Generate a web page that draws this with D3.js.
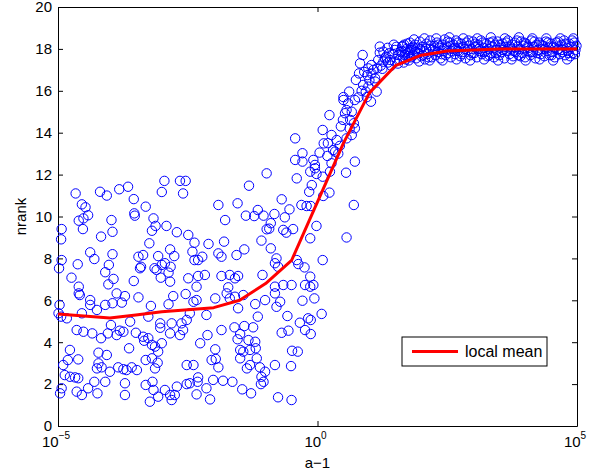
<!DOCTYPE html>
<html>
<head>
<meta charset="utf-8">
<script src="https://cdn.jsdelivr.net/npm/d3@7"></script>
<style>
  body { margin: 0; background: #fff; }
  text { font-family: "Liberation Sans", Arial, Helvetica, sans-serif; }
</style>
</head>
<body>
<div id="chart"></div>
<script>
// scatter points: [log10(a-1), nrank]
let flatLeft = [
  [-4.66,11.1],[-4.19,11.18],[-4.06,11.0],[-3.82,11.3],[-3.65,11.42],[-3.54,10.83],[-2.95,11.7],[-3.0,11.17],
  [-2.65,11.7],[-2.54,11.7],[-2.59,11.1],[-4.54,10.58],[-4.47,10.44],[-4.42,10.06],[-4.51,9.91],[-4.6,9.8],
  [-4.52,9.4],[-4.93,9.4],[-4.94,8.91],[-3.97,9.83],[-3.95,9.27],[-4.17,9.04],[-3.53,10.15],[-3.52,10.04],
  [-3.31,10.47],[-3.16,9.91],[-3.12,9.55],[-3.19,9.32],[-2.91,9.55],[-2.71,9.25],[-2.49,9.12],[-3.24,8.72],
  [-4.93,7.92],[-4.98,7.53],[-4.62,7.72],[-4.38,8.29],[-4.3,7.97],[-3.95,8.2],[-4.02,7.69],[-4.09,7.34],
  [-3.93,7.02],[-4.03,6.76],[-4.74,7.08],[-4.6,6.65],[-3.54,6.92],[-3.45,8.08],[-3.36,8.16],[-3.4,7.6],
  [-3.42,7.53],[-3.07,8.11],[-3.14,7.53],[-3.0,7.69],[-2.94,7.77],[-2.84,8.43],[-2.76,8.11],[-2.83,7.6],
  [-2.87,7.32],[-3.02,7.08],[-2.84,6.89],[-2.49,7.05],[-3.1,7.45],
  [-4.97,5.78],[-4.99,5.38],[-4.94,5.22],[-4.83,5.14],[-4.6,6.33],[-4.58,6.25],[-4.38,6.01],[-4.38,5.78],
  [-4.25,5.54],[-4.09,5.78],[-3.95,5.86],[-3.87,6.33],[-3.71,6.2],[-3.77,5.89],[-3.45,6.14],[-3.21,5.73],
  [-2.87,5.81],[-2.78,6.2],[-2.54,6.3],[-4.54,5.38],[-3.61,4.98],[-3.98,4.82],[-4.64,4.58],[-4.51,4.5],
  [-4.34,4.42],[-4.17,4.19],[-4.04,4.42],[-3.87,4.34],[-3.81,4.55],[-3.74,4.5],[-3.5,4.45],[-3.36,4.26],
  [-3.34,4.07],[-3.26,4.19],[-3.19,3.87],[-3.13,3.79],[-3.07,3.55],[-3.26,5.22],[-3.03,4.9],[-3.03,4.69],
  [-2.81,4.9],[-2.84,4.42],[-2.62,4.9],[-2.59,4.58],[-2.65,4.34],[-3.0,3.95],[-3.63,3.71],[-4.77,3.63],
  [-4.81,3.15],[-4.9,2.91],[-4.87,2.43],[-4.77,2.35],[-4.67,2.32],[-4.61,2.28],[-4.61,3.18],[-4.22,3.5],
  [-4.06,3.39],[-4.22,2.99],[-4.16,2.8],[-4.25,2.75],[-4.0,2.59],[-3.84,2.8],[-3.74,2.71],[-3.68,2.67],
  [-3.58,2.8],[-3.48,2.67],[-3.31,3.15],[-3.19,3.23],[-3.13,2.75],[-3.08,3.02],[-4.93,1.8],[-4.96,1.56],
  [-4.64,1.64],[-4.54,1.48],[-4.42,1.8],[-4.3,2.11],[-4.24,1.56],[-4.09,2.11],[-3.71,2.04],[-3.71,1.48],
  [-3.31,1.96],[-3.18,2.11],[-3.16,1.72],[-3.23,1.16],[-3.07,1.4],[-2.94,1.72],[-2.84,1.48],[-2.81,1.24],
  [-2.71,1.88],[-2.75,1.48],[-2.52,2.0],[-2.52,2.91]
];

let flatMid = [
  [-0.98,12.06],[-1.32,11.47],[-0.4,11.82],[-0.43,12.7],[-0.29,13.02],[-0.29,12.62],[-0.14,12.14],[-0.11,11.5],
  [-0.16,11.18],[-0.05,12.46],[-1.91,10.55],[-1.54,10.63],[-1.78,9.83],[-1.38,10.04],[-1.22,10.02],[-1.15,10.31],
  [-1.04,10.04],[-0.83,10.12],[-0.63,9.96],[-0.54,10.34],[-0.69,10.82],[-0.31,10.55],[-0.21,10.5],[-0.13,10.5],
  [-0.02,9.55],[-0.9,9.68],[-0.93,9.42],[-0.98,9.39],[-0.66,9.36],[-0.6,9.23],[-0.47,9.4],[-0.14,8.96],
  [-1.08,8.85],[-0.9,8.48],[-0.79,8.0],[-0.82,7.77],[-0.76,7.6],[-0.4,7.92],[-0.37,7.73],[-0.25,7.57],
  [-0.14,7.13],[-0.24,6.73],[-0.08,6.73],[-0.66,6.73],[-0.5,6.73],[-1.06,7.21],[-0.82,6.65],[-2.37,8.75],
  [-2.41,8.32],[-2.37,7.92],[-2.3,7.92],[-2.22,8.08],[-2.1,8.69],[-1.8,8.8],[-1.91,8.24],[-1.85,8.08],
  [-1.56,8.16],[-1.41,8.43],[-2.3,7.16],[-2.17,7.21],[-1.85,7.16],[-1.69,7.21],[-1.59,7.05],[-1.53,7.16],
  [-2.33,6.65],[-1.72,6.62],
  [-2.33,6.01],[-2.39,5.93],[-2.46,5.38],[-2.52,5.06],[-1.97,6.09],[-1.75,6.33],[-1.69,6.09],[-1.59,6.17],
  [-1.43,6.25],[-1.53,5.62],[-2.14,5.3],[-1.2,5.82],[-1.15,5.22],[-1.01,6.01],[-0.82,6.33],[-0.72,5.93],
  [-0.79,5.69],[-0.29,5.98],[-0.06,6.09],[-0.58,5.25],[-0.34,4.93],[-0.13,5.06],[-0.24,4.58],[-0.13,4.39],
  [-0.69,4.45],[-0.56,4.55],[-1.85,4.58],[-1.6,4.71],[-1.41,4.77],[-1.24,4.71],[-2.26,3.95],[-2.12,4.34],
  [-1.97,3.66],[-1.54,4.14],[-1.49,4.39],[-1.33,4.1],[-1.2,4.02],[-1.49,3.63],[-1.43,3.55],[-1.3,3.63],
  [-1.19,3.71],[-2.39,2.91],[-2.04,3.15],[-1.96,3.2],[-1.91,2.8],[-1.49,3.23],[-1.17,3.23],[-1.36,2.75],
  [-1.3,2.91],[-1.11,2.8],[-1.01,2.59],[-0.82,2.91],[-0.51,2.86],[-0.49,3.59],[-0.38,3.55],[-2.3,2.32],
  [-2.46,2.04],[-2.31,2.11],[-2.14,1.8],[-2.01,2.2],[-1.82,2.16],[-1.64,2.11],[-2.33,1.51],[-2.07,1.27],
  [-1.45,1.75],[-1.28,1.56],[-1.08,2.35],[-1.04,2.11],[-1.09,2.0],[-0.76,1.37],[-0.5,1.24]
];

let rising = [
  [-0.08,12.7],[-0.05,12.3],[0.04,13.05],[0.19,12.89],[0.27,12.54],[0.34,13.1],[0.1,11.9],[0.24,12.14],
  [-0.02,12.03],[0.72,12.62],[0.55,12.09],[0.23,11.14],[0.11,10.98],[0.7,10.55],[0.56,9.0],[0.1,7.92],
  [-0.14,6.65],[0.08,5.35],[-0.18,5.14],
  [-0.43,13.73],[0.1,14.13],[0.23,14.84],[0.12,13.49],[0.27,13.89],[0.37,13.65],[0.43,13.37],[0.3,13.17],
  [0.49,14.61],[0.53,14.93],[0.5,15.56],[0.59,15.4],[0.56,15.08],[0.66,15.0],[0.72,15.56],[0.79,15.69],
  [0.61,15.96],[0.5,15.7],[0.63,14.61],[0.72,14.21],[0.7,14.45],[0.66,13.89],[0.56,13.73],[0.74,16.52],
  [0.8,16.83],[0.88,16.28],[0.93,15.96],[0.98,16.2],[1.03,15.48],[0.87,17.71],[0.98,17.07],[1.04,16.83],
  [1.11,16.6],[1.15,17.07],[1.04,17.23],[1.17,17.47],[1.2,17.82],[1.27,17.87],[1.32,17.63],[1.38,17.79],
  [1.49,17.95],[1.56,17.71],[1.64,18.14],[1.69,17.87],[1.75,17.66],[1.81,18.03],[1.88,17.87],[1.4,17.47],
  [1.27,17.39],[1.49,17.39],[1.11,16.44],[0.96,16.75],[1.14,15.96],[0.82,17.31],[1.2,18.11],
  [0.9,16.9],[1.0,16.5],[1.08,17.0],[1.22,17.2],[1.3,17.55],[1.35,18.05],[1.45,17.75],[1.52,18.1],
  [1.58,17.5],[0.85,16.0],[0.95,15.7],[0.62,14.2],[0.45,14.3],[0.4,13.0],[0.2,13.5],
  [1.25,17.05],[1.42,17.2],[1.55,17.3],[1.6,17.85],[1.47,18.2],[1.36,17.35]
];

let plateau = [
  [1.62,17.9],[1.65,17.6],[1.67,18.2],[1.70,17.5],[1.72,18.0],[1.75,17.8],[1.78,18.3],[1.80,17.6],
  [1.83,17.95],[1.85,17.7],[1.88,18.2],[1.90,17.55],[1.93,18.05],[1.95,17.8],[1.97,18.35],[2.00,17.65],
  [2.02,18.1],[2.05,17.9],[2.07,17.5],[2.10,18.25],[2.12,17.75],[2.15,18.0],[2.17,18.4],[2.20,17.6],
  [2.22,17.95],[2.25,18.15],[2.27,17.7],[2.30,18.3],[2.32,17.85],[2.35,18.05],[2.37,17.55],[2.40,18.2],
  [2.42,17.9],[2.45,18.45],[2.47,17.7],[2.50,18.1],[2.52,17.8],[2.55,18.3],[2.57,17.6],[2.60,18.0],
  [2.62,18.2],[2.65,17.75],[2.67,18.4],[2.70,17.9],[2.72,18.05],[2.75,17.65],[2.77,18.25],[2.80,17.85],
  [2.82,18.1],[2.85,17.55],[2.87,18.3],[2.90,17.95],[2.92,18.15],[2.95,17.7],[2.97,18.0],[3.00,18.35],
  [3.02,17.8],[3.05,18.1],[3.07,17.6],[3.10,18.2],[3.12,17.9],[3.15,18.4],[3.17,17.75],[3.20,18.05],
  [3.22,17.85],[3.25,18.25],[3.27,17.65],[3.30,18.0],[3.32,18.3],[3.35,17.8],[3.37,18.1],[3.40,17.6],
  [3.42,18.2],[3.45,17.95],[3.47,18.35],[3.50,17.7],[3.52,18.05],[3.55,17.85],[3.57,18.25],[3.60,17.55],
  [3.62,18.1],[3.65,17.9],[3.67,18.4],[3.70,17.75],[3.72,18.0],[3.75,18.2],[3.77,17.65],[3.80,18.3],
  [3.82,17.85],[3.85,18.1],[3.87,17.7],[3.90,18.0],[3.92,18.35],[3.95,17.8],[3.97,18.15],[4.00,17.6],
  [4.02,18.25],[4.05,17.9],[4.07,18.05],[4.10,17.7],[4.12,18.4],[4.15,17.85],[4.17,18.1],[4.20,17.55],
  [4.22,18.2],[4.25,17.95],[4.27,18.3],[4.30,17.75],[4.32,18.0],[4.35,18.15],[4.37,17.65],[4.40,18.35],
  [4.42,17.9],[4.45,18.05],[4.47,17.7],[4.50,18.25],[4.52,17.85],[4.55,18.1],[4.57,17.6],[4.60,18.3],
  [4.62,17.95],[4.65,18.0],[4.67,17.75],[4.70,18.2],[4.72,17.85],[4.75,18.4],[4.77,17.7],[4.80,18.05],
  [4.82,17.9],[4.85,18.25],[4.87,17.65],[4.90,18.1],[4.92,17.8],[4.95,18.3],[4.97,17.95],[4.99,18.15],
  [1.63,18.1],[1.68,17.7],[1.73,18.25],[1.79,17.95],[1.84,18.1],[1.91,17.85],[1.98,18.0],[2.03,17.7],
  [2.09,18.0],[2.14,17.6],[2.19,18.15],[2.26,17.9],[2.33,18.2],[2.39,17.75],[2.44,18.0],[2.51,18.35],
  [2.58,17.9],[2.64,18.05],[2.71,18.3],[2.78,17.75],[2.84,18.0],[2.91,18.4],[2.98,17.8],[3.04,18.25],
  [3.11,18.0],[3.18,18.3],[3.24,17.9],[3.31,17.7],[3.38,18.35],[3.44,17.8],[3.51,18.2],[3.58,17.95],
  [3.64,18.3],[3.71,18.1],[3.78,17.9],[3.84,18.4],[3.91,17.65],[3.98,18.3],[4.04,18.1],[4.11,17.85],
  [4.18,18.35],[4.24,17.8],[4.31,18.2],[4.38,18.0],[4.44,18.3],[4.51,17.7],[4.58,18.05],[4.64,18.35],
  [4.71,17.95],[4.78,18.25],[4.84,17.8],[4.91,18.4],[4.96,17.75],
  [1.66,17.35],[1.76,17.45],[1.86,18.45],[1.96,17.4],[2.06,18.5],[2.16,17.45],[2.29,18.5],[2.41,17.45],
  [2.54,18.55],[2.68,17.5],[2.81,18.5],[2.94,17.45],[3.08,18.5],[3.21,17.5],[3.34,18.55],[3.48,17.45],
  [3.61,18.5],[3.74,17.5],[3.88,18.55],[4.01,17.45],[4.14,18.5],[4.28,17.5],[4.41,18.5],[4.54,17.45],
  [4.68,18.5],[4.81,17.5],[4.93,18.5]
];

// local mean curve
let meanLog   = [-5, -4.5, -4, -3.5, -3, -2.5, -2, -1.5, -1, -0.5, 0, 0.5, 1, 1.5, 2, 2.5, 3, 3.5, 4, 4.5, 5];
let meanValue = [5.35, 5.25, 5.15, 5.3, 5.45, 5.55, 5.65, 6.0, 6.8, 7.9, 10.7, 13.5, 15.9, 17.2, 17.7, 17.9, 17.95, 18.0, 18.0, 18.0, 18.0];

let xTicks = [-5, 0, 5];
let yTicks = [0, 2, 4, 6, 8, 10, 12, 14, 16, 18, 20];

let margin = {top: 7, right: 23, bottom: 46, left: 58},
    width = 600 - margin.left - margin.right,
    height = 472 - margin.top - margin.bottom;

let points = flatLeft.concat(flatMid, rising, plateau);

let svg = d3.select("#chart")
    .append("svg")
    .attr("width", 600)
    .attr("height", 472)
    .append("g")
    .attr("transform", `translate(${margin.left},${margin.top})`);

let xScale = d3.scaleLog().domain([1e-5, 1e5]).range([0, width]);
let yScale = d3.scaleLinear().domain([0, 20]).range([height, 0]);

// axes with inward ticks on all four sides
let xVals = xTicks.map(e => Math.pow(10, e));

svg.append("g")
    .attr("class", "x-axis")
    .attr("transform", `translate(0,${height})`)
    .call(d3.axisBottom(xScale).tickValues(xVals).tickSizeInner(-5).tickSizeOuter(0).tickFormat(""));
svg.append("g")
    .attr("class", "x-axis-top")
    .call(d3.axisTop(xScale).tickValues(xVals).tickSizeInner(-5).tickSizeOuter(0).tickFormat(""));
svg.append("g")
    .attr("class", "y-axis")
    .call(d3.axisLeft(yScale).tickValues(yTicks).tickSizeInner(-5).tickSizeOuter(0).tickPadding(6));
svg.append("g")
    .attr("class", "y-axis-right")
    .attr("transform", `translate(${width},0)`)
    .call(d3.axisRight(yScale).tickValues(yTicks).tickSizeInner(-5).tickSizeOuter(0).tickFormat(""));

svg.selectAll(".domain, .tick line").attr("stroke", "#000");
svg.selectAll(".y-axis .tick text")
    .attr("font-size", 15)
    .attr("font-family", "Liberation Sans, Arial, sans-serif")
    .attr("fill", "#000");

// x tick labels as 10^n
svg.append("g")
    .selectAll("text")
    .data(xTicks)
    .join("text")
    .attr("x", d => xScale(Math.pow(10, d)) - 2)
    .attr("y", height + 21)
    .attr("text-anchor", "middle")
    .attr("font-size", 15)
    .each(function(d) {
        let t = d3.select(this);
        t.append("tspan").text("10");
        t.append("tspan")
            .attr("dy", -8)
            .attr("font-size", 10)
            .text(d < 0 ? "\u2212" + Math.abs(d) : d);
    });

// axis labels
svg.append("text")
    .attr("x", width / 2)
    .attr("y", height + 42)
    .attr("text-anchor", "middle")
    .attr("font-size", 15)
    .text("a\u22121");

svg.append("text")
    .attr("transform", "rotate(-90)")
    .attr("x", -height / 2)
    .attr("y", -32)
    .attr("text-anchor", "middle")
    .attr("font-size", 15)
    .text("nrank");

// scatter
svg.append("g")
    .selectAll("circle")
    .data(points)
    .join("circle")
    .attr("cx", d => xScale(Math.pow(10, d[0])))
    .attr("cy", d => yScale(d[1]))
    .attr("r", 4.7)
    .attr("fill", "none")
    .attr("stroke", "#0000ff")
    .attr("stroke-width", 1);

// local mean line
let meanData = meanLog.map((e, i) => [Math.pow(10, e), meanValue[i]]);
svg.append("path")
    .datum(meanData)
    .attr("fill", "none")
    .attr("stroke", "#ff0000")
    .attr("stroke-width", 3)
    .attr("stroke-linejoin", "round")
    .attr("d", d3.line().x(d => xScale(d[0])).y(d => yScale(d[1])));

// legend
let legend = svg.append("g").attr("transform", `translate(${402 - margin.left},${337 - margin.top})`);
legend.append("rect")
    .attr("width", 145).attr("height", 29)
    .attr("fill", "#fff").attr("stroke", "#000");
legend.append("line")
    .attr("x1", 10).attr("x2", 56).attr("y1", 14.5).attr("y2", 14.5)
    .attr("stroke", "#ff0000").attr("stroke-width", 3);
legend.append("text")
    .attr("x", 63).attr("y", 20)
    .attr("font-size", 16)
    .text("local mean");
</script>
</body>
</html>
